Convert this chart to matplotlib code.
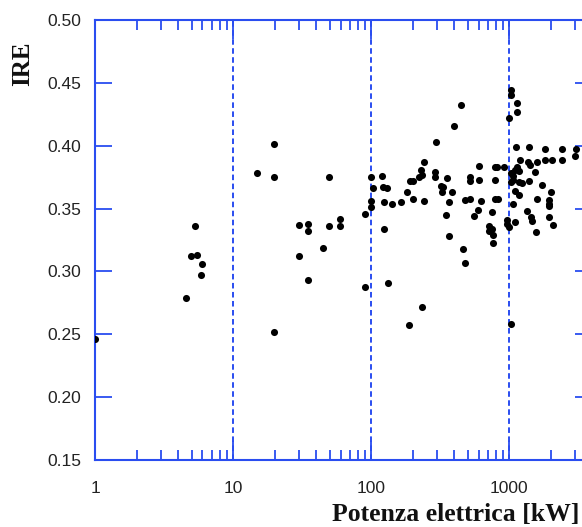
import matplotlib
matplotlib.use('Agg')
import matplotlib.pyplot as plt
from matplotlib.ticker import FixedLocator, FixedFormatter, LogLocator, NullFormatter

plt.rcParams['lines.scale_dashes'] = False

power_kw = [5.30, 4.96, 5.51, 5.92, 5.89, 4.56, 1.0,
            19.9, 15.0, 19.9, 49.5, 99.2, 102.5, 99.2, 99.2, 90.2, 59.4, 29.9, 34.7, 34.7,
            49.5, 59.4, 44.8, 29.9, 34.7, 90.2, 19.9,
            447, 398, 296, 243, 228, 232, 223, 290, 290, 356, 191, 200, 119, 122, 130, 181,
            319, 333, 327, 383, 200, 243, 124, 141, 164, 366, 346, 124, 366, 460,
            1023, 1023, 1143, 1143, 1000, 1119, 1396, 1815, 2395, 3026, 2990, 1195, 1373,
            1596, 1815, 2048, 2395, 1413, 606, 788, 818, 915, 1143, 1099, 1181, 1023, 1536,
            1069, 519, 519, 606, 788, 1069, 1023, 1181, 1230, 1396, 1717, 1099, 1181, 1994,
            1578, 1949, 1949, 1949, 475, 519, 621, 788, 828, 1059, 597, 1336, 746, 555, 1429,
            1453, 1949, 2061, 958, 958, 1099, 1000, 716, 746, 716, 766, 758, 1561,
            478, 133, 234, 189, 1023]
ire = [0.336, 0.312, 0.313, 0.306, 0.297, 0.279, 0.246,
       0.401, 0.378, 0.375, 0.375, 0.375, 0.366, 0.356, 0.351, 0.346, 0.342, 0.337, 0.338, 0.332,
       0.336, 0.336, 0.319, 0.312, 0.293, 0.288, 0.252,
       0.432, 0.416, 0.403, 0.387, 0.381, 0.377, 0.375, 0.379, 0.375, 0.374, 0.372, 0.372, 0.376,
       0.367, 0.366, 0.363, 0.368, 0.367, 0.363, 0.363, 0.358, 0.356, 0.355, 0.354, 0.355, 0.355,
       0.345, 0.334, 0.328, 0.318,
       0.444, 0.440, 0.434, 0.427, 0.422, 0.399, 0.399, 0.397, 0.397, 0.397, 0.392, 0.389, 0.387,
       0.387, 0.389, 0.389, 0.389, 0.385, 0.384, 0.383, 0.383, 0.383, 0.383, 0.381, 0.380, 0.378,
       0.379, 0.376, 0.375, 0.372, 0.373, 0.373, 0.373, 0.371, 0.371, 0.370, 0.372, 0.369, 0.364,
       0.361, 0.363, 0.358, 0.357, 0.354, 0.352, 0.357, 0.358, 0.356, 0.358, 0.358, 0.354, 0.349,
       0.348, 0.347, 0.344, 0.343, 0.340, 0.343, 0.337, 0.341, 0.338, 0.339, 0.335, 0.336, 0.334,
       0.332, 0.329, 0.323, 0.331,
       0.307, 0.291, 0.272, 0.257, 0.258]

x_ticks = [1, 10, 100, 1000]
x_tick_labels = ['1', '10', '100', '1000']
y_ticks = [0.15, 0.20, 0.25, 0.30, 0.35, 0.40, 0.45, 0.50]
y_tick_labels = ['0.15', '0.20', '0.25', '0.30', '0.35', '0.40', '0.45', '0.50']
guide_lines = [10, 100, 1000]

blue = '#2a4df0'
serif = ['Liberation Serif', 'DejaVu Serif']
sans = ['Liberation Sans', 'DejaVu Sans']

fig = plt.figure(figsize=(5.82, 5.27), dpi=100)
ax = fig.add_axes([95 / 582, 67 / 527, 497 / 582, 440 / 527])
ax.set_xscale('log')
ax.set_xlim(1, 3970)
ax.set_ylim(0.15, 0.50)

for v in guide_lines:
    ax.axvline(v, color=blue, lw=1.4, linestyle=(0, (4, 2.5)), zorder=1)

ax.scatter(power_kw, ire, s=26, color='black', marker='o', zorder=3, linewidths=0)

for sp in ax.spines.values():
    sp.set_color(blue)
    sp.set_linewidth(1.5)

ax.xaxis.set_major_locator(FixedLocator(x_ticks))
ax.xaxis.set_major_formatter(FixedFormatter(x_tick_labels))
ax.xaxis.set_minor_locator(LogLocator(base=10, subs=range(2, 10)))
ax.xaxis.set_minor_formatter(NullFormatter())
ax.yaxis.set_major_locator(FixedLocator(y_ticks))
ax.yaxis.set_major_formatter(FixedFormatter(y_tick_labels))

ax.tick_params(axis='x', which='major', direction='in', length=14, width=1.3, color=blue,
               top=True, bottom=True, pad=15, labelsize=12.5, labelcolor='#222222')
ax.tick_params(axis='x', which='minor', direction='in', length=7, width=1.3, color=blue,
               top=True, bottom=True)
ax.tick_params(axis='y', which='major', direction='in', length=12, width=1.3, color=blue,
               left=True, right=True, pad=10, labelsize=12.5, labelcolor='#222222')
for lab in ax.get_xticklabels() + ax.get_yticklabels():
    lab.set_family(sans)

fig.text(23 / 582, 1 - 64 / 527, 'IRE', rotation=90, ha='center', va='center',
         family=serif, fontweight='bold', fontsize=18, color='#111111')
fig.text(579 / 582, 1 - 515 / 527, 'Potenza elettrica [kW]', ha='right', va='center',
         family=serif, fontweight='bold', fontsize=18.5, color='#111111')

fig.savefig('out.png', dpi=100)
